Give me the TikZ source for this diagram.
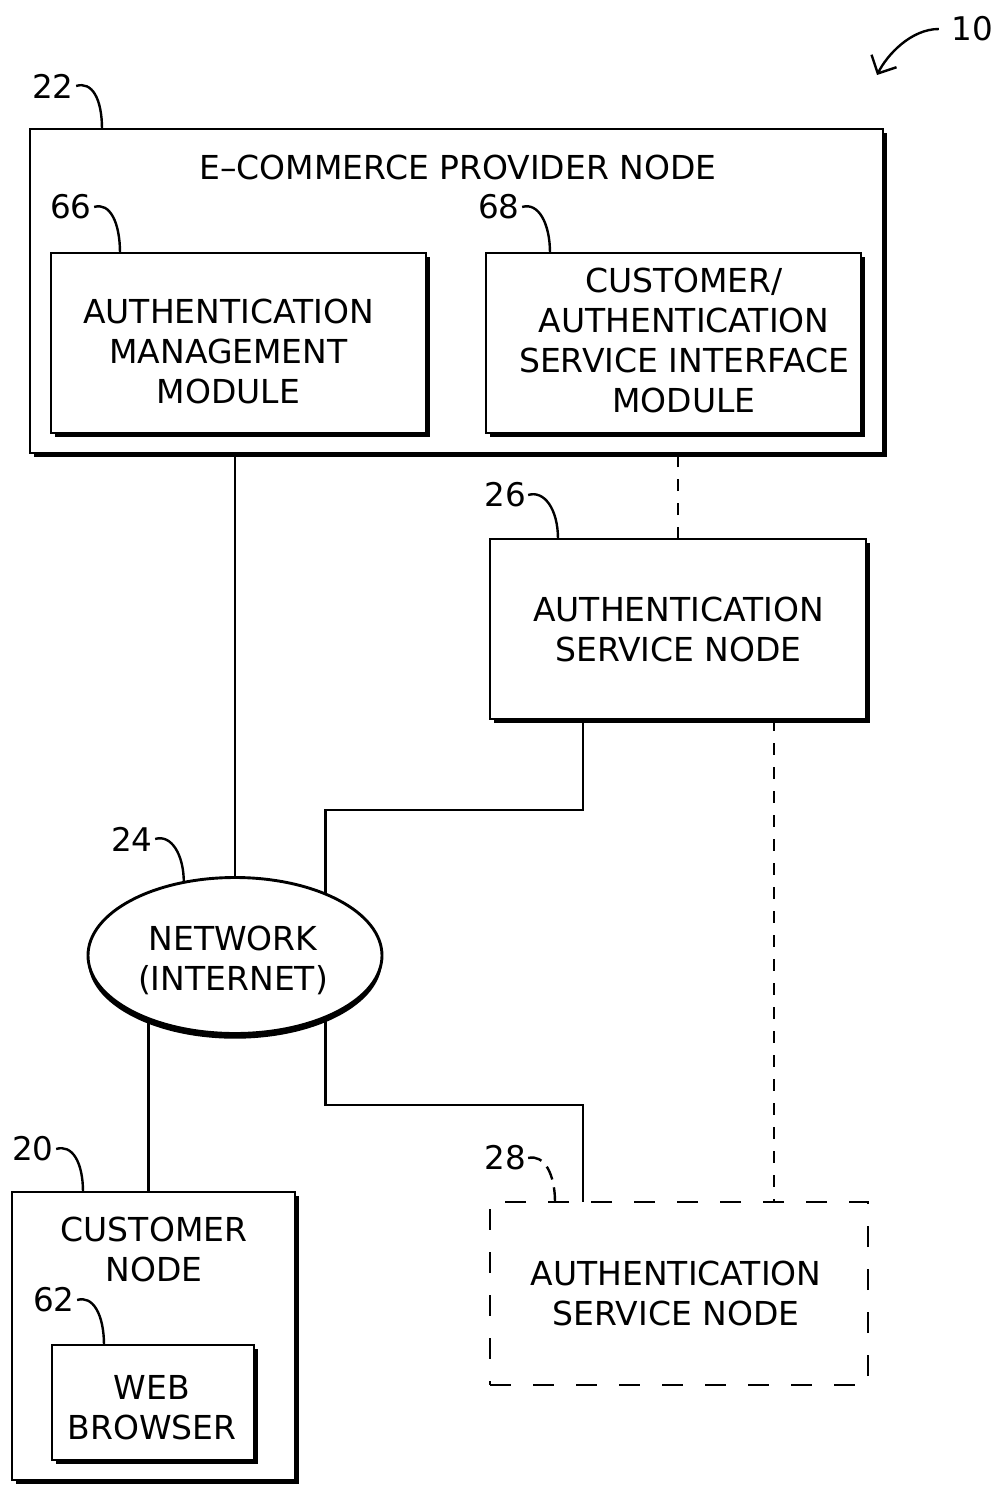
\documentclass[tikz,border=0pt]{standalone}
\usepackage{fontspec}
\setmainfont{DejaVu Sans}
\usetikzlibrary{shapes.geometric,shadows,arrows.meta}
\newcommand\boxfont{\fontsize{16.5pt}{20pt}\selectfont}
\newcommand\numfont{\fontsize{16.3pt}{18pt}\selectfont}

\begin{document}
\begin{tikzpicture}[x=0.5pt,y=-0.5pt,
  lw/.style={line width=1.45pt},
  block/.style={draw, lw, fill=white, rectangle, inner sep=0pt, outer sep=0pt,
    drop shadow={shadow xshift=2pt, shadow yshift=-2pt, fill=black, opacity=1}},
  ghost/.style={draw, lw, rectangle, inner sep=0pt, outer sep=0pt,
    dash pattern=on 10.5pt off 11pt},
  cloud/.style={draw, lw, fill=white, ellipse, inner sep=0pt, outer sep=0pt,
    drop shadow={shadow xshift=0pt, shadow yshift=-2.6pt, fill=black, opacity=1}},
  txt/.style={align=center, inner sep=0pt, font=\boxfont},
  num/.style={inner sep=1pt, font=\numfont},
  wire/.style={lw},
  dwire/.style={lw, dash pattern=on 6pt off 6pt},
  leader/.style={line width=1.2pt},
]
\useasboundingbox (0,0) rectangle (997,1487);

% e-commerce provider node and its two modules
\node[block, minimum width=426.5pt, minimum height=162pt] (n22) at (456.5,291) {};
\node[block, minimum width=187.5pt, minimum height=90pt] (m66) at (238.5,343) {};
\node[block, minimum width=187.5pt, minimum height=90pt] (m68) at (673.5,343) {};
\node[txt] (t22) at (458,167) {E–COMMERCE PROVIDER NODE};
\node[txt] (t66) at (228.5,351.5) {AUTHENTICATION\\MANAGEMENT\\MODULE};
\node[txt] (t68) at (684,340) {CUSTOMER/\\AUTHENTICATION\\SERVICE INTERFACE\\MODULE};

% authentication service node
\node[block, minimum width=188pt, minimum height=90pt] (n26) at (678,629) {};
\node[txt] (t26) at (678.5,629) {AUTHENTICATION\\SERVICE NODE};

% network
\node[cloud, minimum width=147pt, minimum height=78pt] (n24) at (235,955.5) {};
\node[txt] (t24) at (233,960.5) {NETWORK\\(INTERNET)};

% customer node with web browser
\node[block, minimum width=141.5pt, minimum height=144pt] (n20) at (153.5,1336) {};
\node[block, minimum width=101pt, minimum height=57.5pt] (m62) at (153,1402.5) {};
\node[txt] (t20) at (154,1249) {CUSTOMER\\NODE};
\node[txt] (t62) at (152,1407.5) {WEB\\BROWSER};

% optional second authentication service node
\node[ghost, minimum width=189pt, minimum height=91.5pt] (n28) at (679,1293.5) {};
\node[txt] (t28) at (676,1293.5) {AUTHENTICATION\\SERVICE NODE};

% reference numerals
\node[num] (l10) at (972,29) {10};
\node[num] (l22) at (53,86) {22};
\node[num] (l66) at (71,207) {66};
\node[num] (l68) at (499,207) {68};
\node[num] (l26) at (505,495) {26};
\node[num] (l24) at (132,839) {24};
\node[num] (l20) at (33,1149) {20};
\node[num] (l62) at (54,1300) {62};
\node[num] (l28) at (505,1158) {28};

% leader lines
\draw[leader] (l22.east) .. controls +(16,-5) and +(0,-30) .. ([xshift=36pt]n22.north west);
\draw[leader] (l66.east) .. controls +(16,-5) and +(0,-30) .. ([xshift=34.5pt]m66.north west);
\draw[leader] (l68.east) .. controls +(16,-5) and +(0,-30) .. ([xshift=32pt]m68.north west);
\draw[leader] (l26.east) .. controls +(16,-5) and +(0,-30) .. ([xshift=34pt]n26.north west);
\draw[leader] (l24.east) .. controls +(16,-5) and +(0,-28) .. (n24.125);
\draw[leader] (l20.east) .. controls +(16,-5) and +(0,-30) .. ([xshift=35.5pt]n20.north west);
\draw[leader] (l62.east) .. controls +(16,-5) and +(0,-30) .. ([xshift=26pt]m62.north west);
\draw[leader, dash pattern=on 7pt off 4pt] (l28.east) .. controls +(16,-4) and +(0,-28) .. ([xshift=32.5pt]n28.north west);

% system arrow
\coordinate (p10) at (877,75);
\draw[leader, -{Straight Barb[length=7pt,width=14pt]}] ([xshift=-5pt]l10.west) .. controls +(-28,0) and +(10,-20) .. (p10);

% connections
\coordinate (j1) at (583,810);
\coordinate (j3) at (583,1105);
\coordinate (j4) at (774,900);
\draw[wire] (n24.north) -- (n24.north |- n22.south);
\draw[dwire] (n26.north) -- (n26.north |- n22.south);
\draw[wire] (n26.south -| j1) -- (j1) -| (n24.34);
\draw[wire] (n24.-34) |- (j3) -- (n28.north -| j3);
\draw[wire] (n24.216) -- (n24.216 |- n20.north);
\draw[dwire] (n26.south -| j4) -- (n28.north -| j4);
\end{tikzpicture}
\end{document}
